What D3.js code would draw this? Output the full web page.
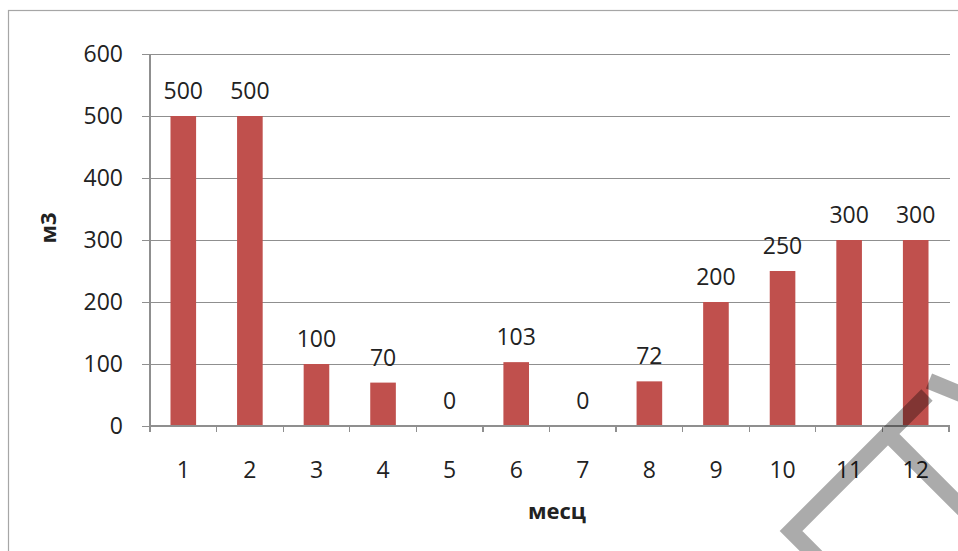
<!DOCTYPE html>
<html>
<head>
<meta charset="utf-8">
<script src="https://cdn.jsdelivr.net/npm/d3@7/dist/d3.min.js"></script>
<style>
  html, body { margin: 0; padding: 0; background: #fff; }
  svg { display: block; }
  text { font-family: "Open Sans", "Noto Sans", sans-serif; fill: #222; }
</style>
</head>
<body>
<svg id="chart" width="958" height="551"></svg>
<script>
// Monthly volumes, м3
const months = ["1", "2", "3", "4", "5", "6", "7", "8", "9", "10", "11", "12"];
const volumes = [500, 500, 100, 70, 0, 103, 0, 72, 200, 250, 300, 300];
const yTicks = [0, 100, 200, 300, 400, 500, 600];
const yTitle = "м3";
const xTitle = "месц";

const svg = d3.select("#chart");
const W = 958, H = 551;
const plot = { left: 150, right: 950, top: 54, bottom: 426 };
const fontSize = 23;

const x = d3.scaleBand().domain(months).range([plot.left, 949]).padding(0);
const y = d3.scaleLinear().domain([0, 600]).range([plot.bottom, plot.top]);
const barFrac = 1 / 2.6;            // bar width relative to its category band
const bw = x.bandwidth() * barFrac;

// chart frame
svg.append("rect")
  .attr("x", 8.5).attr("y", 10.5)
  .attr("width", W + 20).attr("height", H + 20)
  .attr("fill", "#fff").attr("stroke", "#a6a6a6").attr("stroke-width", 1.2);

// horizontal gridlines + y ticks
const yAxis = d3.axisLeft(y).tickValues(yTicks).tickSize(-(plot.right - plot.left)).tickPadding(0).tickFormat("");
const gy = svg.append("g").attr("transform", `translate(${plot.left},0)`).call(yAxis);
gy.select(".domain").remove();
gy.selectAll(".tick line")
  .attr("x1", -8)
  .attr("stroke", "#8f8f8f").attr("stroke-width", 1.3)
  .attr("shape-rendering", "crispEdges");

// y tick labels
svg.append("g").selectAll("text").data(yTicks).join("text")
  .attr("x", 123).attr("y", d => y(d) + 8)
  .attr("text-anchor", "end")
  .attr("font-size", fontSize)
  .text(d => d);

// vertical axis line
svg.append("line")
  .attr("x1", plot.left).attr("x2", plot.left)
  .attr("y1", plot.top).attr("y2", plot.bottom + 5)
  .attr("stroke", "#8f8f8f").attr("stroke-width", 1.3)
  .attr("shape-rendering", "crispEdges");

// x axis tick marks on category boundaries
const bounds = months.map(m => x(m)).concat([x.range()[1]]);
svg.append("g").selectAll("line").data(bounds).join("line")
  .attr("x1", d => d).attr("x2", d => d)
  .attr("y1", plot.bottom).attr("y2", plot.bottom + 6)
  .attr("stroke", "#8f8f8f").attr("stroke-width", 1.3)
  .attr("shape-rendering", "crispEdges");

// bars
svg.append("g").selectAll("rect").data(volumes).join("rect")
  .attr("x", (d, i) => x(months[i]) + (x.bandwidth() - bw) / 2)
  .attr("width", bw)
  .attr("y", d => y(d))
  .attr("height", d => y(0) - y(d))
  .attr("fill", "#c0504d");

// x baseline drawn over the bar bottoms
svg.append("line")
  .attr("x1", plot.left).attr("x2", plot.right)
  .attr("y1", plot.bottom).attr("y2", plot.bottom)
  .attr("stroke", "#8f8f8f").attr("stroke-width", 1.3)
  .attr("shape-rendering", "crispEdges");

// value labels
svg.append("g").selectAll("text").data(volumes).join("text")
  .attr("x", (d, i) => x(months[i]) + x.bandwidth() / 2)
  .attr("y", d => y(d) - 17)
  .attr("text-anchor", "middle")
  .attr("font-size", fontSize)
  .text(d => d);

// category labels
svg.append("g").selectAll("text").data(months).join("text")
  .attr("x", d => x(d) + x.bandwidth() / 2)
  .attr("y", 478)
  .attr("text-anchor", "middle")
  .attr("font-size", fontSize)
  .text(d => d);

// axis titles
svg.append("text")
  .attr("transform", "translate(56,228) rotate(-90)")
  .attr("text-anchor", "middle")
  .attr("font-size", 22).attr("font-weight", "bold")
  .text(yTitle);

svg.append("text")
  .attr("x", 557).attr("y", 519)
  .attr("text-anchor", "middle")
  .attr("font-size", 22).attr("font-weight", "bold")
  .text(xTitle);

// diagonal stamp strokes over the lower-right corner
svg.append("path")
  .attr("d", "M835,575 L791,531 L927,395 M883,429 L1000,546 M929,381 L990,406")
  .attr("fill", "none")
  .attr("stroke", "rgba(0,0,0,0.33)")
  .attr("stroke-width", 16)
  .attr("stroke-linejoin", "miter")
  .attr("stroke-linecap", "butt");
</script>
</body>
</html>
